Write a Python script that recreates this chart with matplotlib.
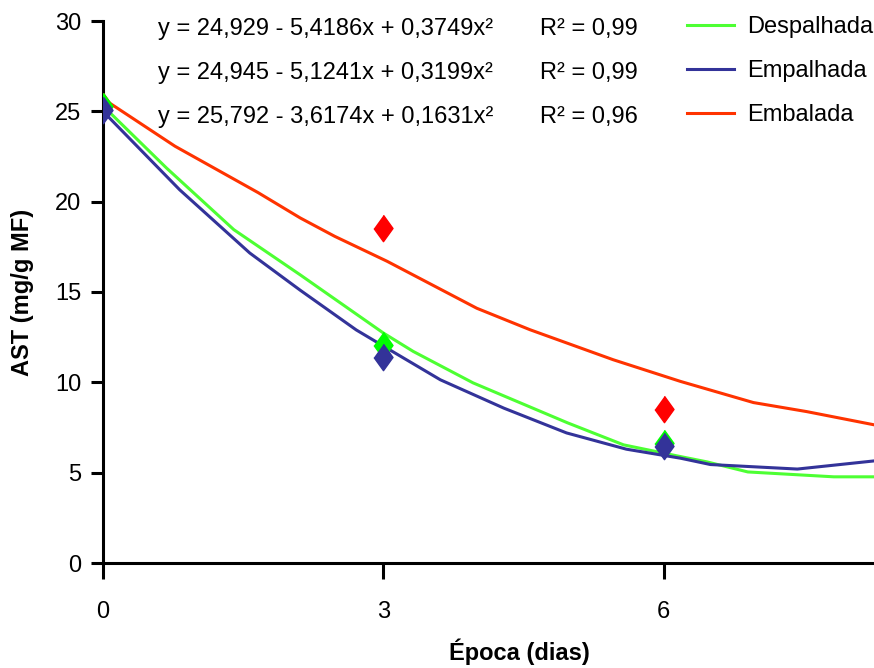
import matplotlib
matplotlib.use("Agg")
import matplotlib.pyplot as plt

plt.rcParams['font.family'] = ['Liberation Sans', 'DejaVu Sans']

# observed means
x_obs = [0, 3, 6]
despalhada_obs = [25.3, 12.05, 6.65]
empalhada_obs = [25.1, 11.4, 6.5]
embalada_obs = [25.3, 18.55, 8.5]

# fitted curves
desp_fit_x = [0, 0.68, 1.40, 2.11, 3.0, 3.32, 3.96, 4.97, 5.57, 6.18, 6.46, 6.9, 7.82, 8.25]
desp_fit_y = [25.3, 21.86, 18.45, 15.95, 12.73, 11.71, 9.97, 7.76, 6.54, 5.89, 5.6, 5.04, 4.77, 4.77]

empa_fit_x = [0, 0.82, 1.57, 2.11, 2.71, 3.1, 3.61, 4.29, 4.96, 5.6, 6.18, 6.5, 7.43, 8.25]
empa_fit_y = [25.0, 20.66, 17.16, 15.1, 12.9, 11.7, 10.14, 8.57, 7.2, 6.3, 5.8, 5.45, 5.2, 5.65]

emba_fit_x = [0, 0.77, 1.66, 2.11, 2.48, 3.04, 4.0, 4.57, 5.46, 6.18, 6.96, 7.53, 8.25]
emba_fit_y = [25.7, 23.07, 20.5, 19.1, 18.08, 16.7, 14.1, 12.91, 11.25, 10.05, 8.88, 8.38, 7.65]

labels = ['Despalhada', 'Empalhada', 'Embalada']
equations = ['y = 24,929 - 5,4186x + 0,3749x²',
             'y = 24,945 - 5,1241x + 0,3199x²',
             'y = 25,792 - 3,6174x + 0,1631x²']
r2_texts = ['R² = 0,99', 'R² = 0,99', 'R² = 0,96']

xticks = [0, 3, 6]
yticks = [0, 5, 10, 15, 20, 25, 30]

line_colors = {'Despalhada': '#4DFF33', 'Empalhada': '#333399', 'Embalada': '#FF3300'}
marker_colors = {'Despalhada': '#00FF00', 'Empalhada': '#333399', 'Embalada': '#FF0000'}

W, H = 874, 668
fig = plt.figure(figsize=(W / 100, H / 100), dpi=100)
ax = fig.add_axes([103 / W, 1 - 563 / H, (W - 103) / W, (563 - 21) / H])

diamond = [(0, 1), (0.72, 0), (0, -1), (-0.72, 0)]
fs = 17
ms = 19

l_emba, = ax.plot(emba_fit_x, emba_fit_y, color=line_colors['Embalada'], lw=2.2, label='Embalada', zorder=2)
l_desp, = ax.plot(desp_fit_x, desp_fit_y, color=line_colors['Despalhada'], lw=2.2, label='Despalhada', zorder=2)
l_empa, = ax.plot(empa_fit_x, empa_fit_y, color=line_colors['Empalhada'], lw=2.2, label='Empalhada', zorder=2)

ax.plot(x_obs, embalada_obs, linestyle='none', marker=diamond, ms=ms,
        color=marker_colors['Embalada'], zorder=3)
ax.plot(x_obs, despalhada_obs, linestyle='none', marker=diamond, ms=ms,
        color=marker_colors['Despalhada'], zorder=4)
ax.plot(x_obs, empalhada_obs, linestyle='none', marker=diamond, ms=ms,
        color=marker_colors['Empalhada'], zorder=5)

ax.set_xlim(0, 8.25)
ax.set_ylim(0, 30)
ax.set_xticks(xticks)
ax.set_yticks(yticks)
ax.tick_params(axis='y', direction='out', length=9, width=2.2, pad=6.5, labelsize=fs)
ax.tick_params(axis='x', direction='out', length=11.5, width=2.2, pad=16, labelsize=fs)

for s in ['top', 'right']:
    ax.spines[s].set_visible(False)
for s in ['left', 'bottom']:
    ax.spines[s].set_linewidth(2.2)
ax.set_facecolor('none')

ax.set_xlabel('Época (dias)', fontsize=fs, fontweight='bold')
ax.xaxis.label.set_va('baseline')
ax.xaxis.set_label_coords((519.5 - 103) / (W - 103), (563 - 660) / 542)
ax.set_ylabel('AST (mg/g MF)', fontsize=fs, fontweight='bold')
ax.yaxis.set_label_coords((33.5 - 103) / (W - 103), 0.5)

baselines = [35, 79, 123]
for eq, r2, b in zip(equations, r2_texts, baselines):
    fig.text(158 / W, 1 - b / H, eq, fontsize=fs, va='baseline', ha='left')
    fig.text(540 / W, 1 - b / H, r2, fontsize=fs, va='baseline', ha='left')

ax.legend(handles=[l_desp, l_empa, l_emba], labels=labels,
          loc='upper left', bbox_to_anchor=(687 / W, 1 - 16.5 / H),
          bbox_transform=fig.transFigure, frameon=False, fontsize=fs,
          borderpad=0, borderaxespad=0, handlelength=2.0, handletextpad=0.55,
          labelspacing=0.92)

fig.savefig('out.png', dpi=100)
